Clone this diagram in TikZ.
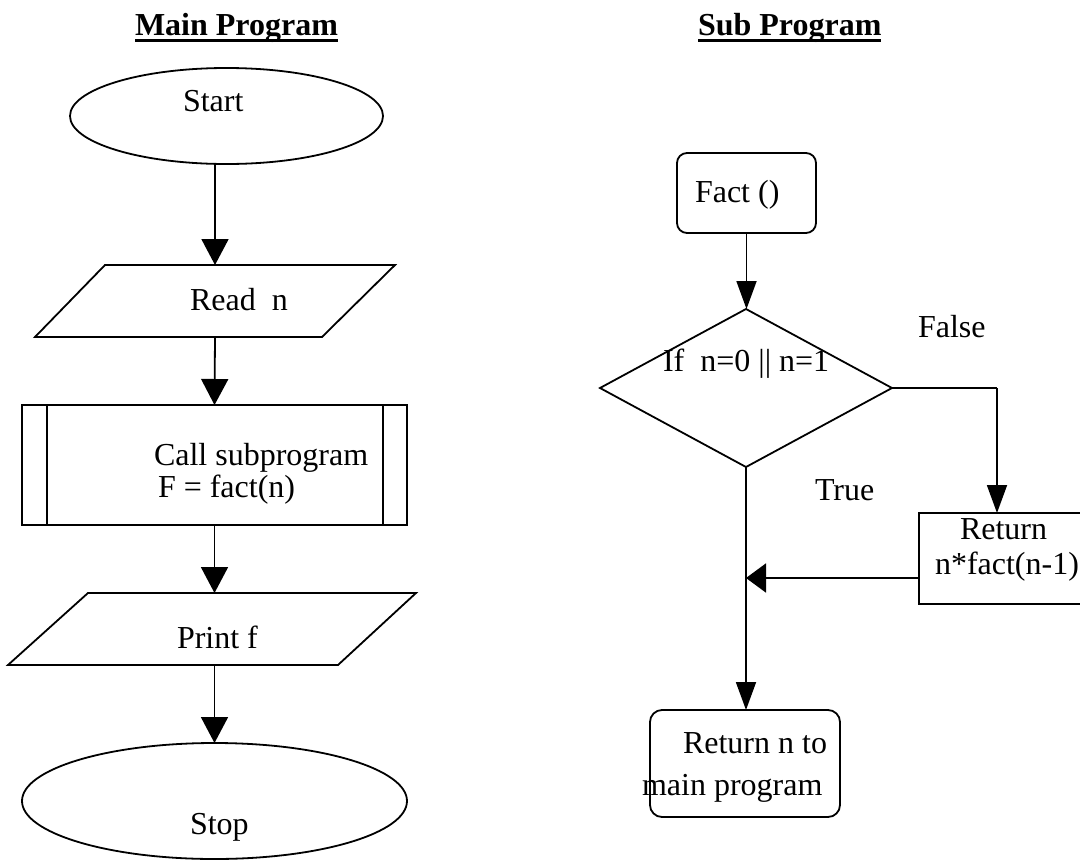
\documentclass[tikz,border=0pt]{standalone}
\usepackage{fontspec}
\setmainfont{Liberation Serif}
\usetikzlibrary{arrows.meta,shapes.geometric,calc}

\begin{document}
\begin{tikzpicture}[x=1pt,y=-1pt,
  line width=1.8pt,
  every node/.style={inner sep=0pt, outer sep=0pt},
  txt/.style={anchor=base west, font=\fontsize{32}{38}\selectfont},
  ttl/.style={anchor=base west, font=\fontsize{32}{38}\selectfont\bfseries},
  term/.style={draw, ellipse},
  box/.style={draw, rectangle},
  ghost/.style={rectangle},
  mainarr/.style={-{Triangle[width=27pt,length=26pt]}},
  subarr/.style={-{Triangle[width=20pt,length=28pt]}},
  joinarr/.style={-{Triangle[width=29pt,length=20pt]}},
  uline/.style={line width=3pt},
]
\useasboundingbox (0,0) rectangle (1080,860);

% ---------- titles ----------
\node[ttl] (mt) at (135,35) {Main Program};
\draw[uline] ($(mt.base west)+(0,5)$) -- ($(mt.base east)+(0,5)$);
\node[ttl] (st) at (698,35) {Sub Program};
\draw[uline] ($(st.base west)+(0,5)$) -- ($(st.base east)+(0,5)$);

% ---------- main program ----------
\node[term, minimum width=313pt, minimum height=96pt] (start) at (226.5,116) {};
\node[txt] (tstart) at (183,111) {Start};

\node[ghost, minimum width=360pt, minimum height=72pt] (read) at (215,301) {};
\draw ($(read.north west)+(70,0)$) -- (read.north east)
      -- ($(read.south east)+(-73,0)$) -- (read.south west) -- cycle;
\node[txt] (tread) at (190,310) {Read\ \ n};

\node[box, minimum width=385pt, minimum height=120pt] (call) at (214.5,465) {};
\draw ($(call.north west)+(25,0)$) -- ($(call.south west)+(25,0)$);
\draw ($(call.north east)+(-24,0)$) -- ($(call.south east)+(-24,0)$);
\node[txt] (tcall1) at (154,465) {Call subprogram};
\node[txt] (tcall2) at (158,497) {F = fact(n)};

\node[ghost, minimum width=408pt, minimum height=72pt] (print) at (212,629) {};
\draw ($(print.north west)+(80,0)$) -- (print.north east)
      -- ($(print.south east)+(-78,0)$) -- (print.south west) -- cycle;
\node[txt] (tprint) at (177,648) {Print f};

\node[term, minimum width=385pt, minimum height=116pt] (stop) at (214.5,801) {};
\node[txt] (tstop) at (190,834) {Stop};

\draw[mainarr] (start.south -| read.north) -- (read.north);
\draw[mainarr] (read.south) -- (call.north);
\draw[mainarr] (call.south) -- (call.south |- print.north);
\draw[mainarr] (call.south |- print.south) -- (call.south |- stop.north);

% ---------- sub program ----------
\node[box, rounded corners=10pt, minimum width=139pt, minimum height=80pt] (fact) at (746.5,193) {};
\node[txt] (tfact) at (695,202) {Fact ()};

\node[draw, diamond, minimum width=292pt, minimum height=158pt] (dec) at (746,388) {};
\node[txt] (tdec) at (663,371) {If\ \ n=0 || n=1};

\node[box, minimum width=180pt, minimum height=91pt] (ret) at (1009,558.5) {};
\node[txt] (tret1) at (960,539) {Return};
\node[txt] (tret2) at (935,574) {n*fact(n-1)};

\node[box, rounded corners=12pt, minimum width=190pt, minimum height=107pt] (back) at (745,763.5) {};
\node[txt] (tback1) at (683,753) {Return n to};
\node[txt] (tback2) at (642,795) {main program};

\node[txt] (lfalse) at (918,337) {False};
\node[txt] (ltrue) at (815,500) {True};

\coordinate (fk) at (997,388);
\coordinate (jn) at (746,578);

\draw[subarr] (fact.south) -- (fact.south |- dec.north);
\draw (dec.east) -- (fk);
\draw[subarr] (fk) -- (fk |- ret.north);
\draw[subarr] (dec.south) -- (dec.south |- back.north);
\draw[joinarr] (ret.west |- jn) -- (jn);
\end{tikzpicture}
\end{document}
